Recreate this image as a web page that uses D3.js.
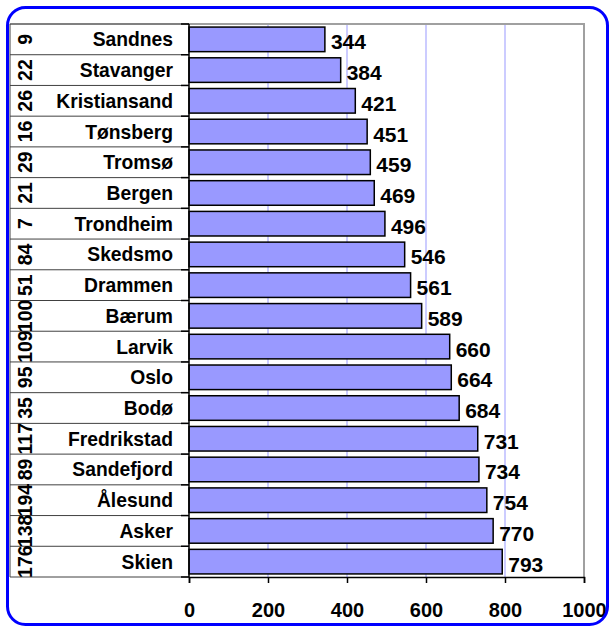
<!DOCTYPE html>
<html>
<head>
<meta charset="utf-8">
<script src="https://cdn.jsdelivr.net/npm/d3@7/dist/d3.min.js"></script>
<style>
	body { margin: 0; background: #fff; }
	text { font-family: "Liberation Sans", Arial, sans-serif; font-weight: bold; fill: #000; }
</style>
</head>
<body>
<svg id="chart" width="609" height="628"></svg>
<script>
// data
var cities = ['Sandnes', 'Stavanger', 'Kristiansand', 'Tønsberg', 'Tromsø', 'Bergen', 'Trondheim', 'Skedsmo', 'Drammen', 'Bærum', 'Larvik', 'Oslo', 'Bodø', 'Fredrikstad', 'Sandefjord', 'Ålesund', 'Asker', 'Skien']
var ranks = [9, 22, 26, 16, 29, 21, 7, 84, 51, 100, 109, 95, 35, 117, 89, 194, 138, 176]
var values = [344, 384, 421, 451, 459, 469, 496, 546, 561, 589, 660, 664, 684, 731, 734, 754, 770, 793]
var xTicks = [0, 200, 400, 600, 800, 1000]

var svg = d3.select('#chart')

var plot = { left: 189, right: 584, top: 24, bottom: 577 }
var tableLeft = 10

var x = d3.scaleLinear().domain([0, 1000]).range([plot.left, plot.right])
var y = d3.scaleBand().domain(cities).range([plot.top, plot.bottom]).paddingInner(0.2).paddingOuter(0.1)
var rowH = (plot.bottom - plot.top) / cities.length

// grid lines
svg.append('g')
	.selectAll('line')
	.data(xTicks.filter(d => d > 0 && d < 1000))
	.join('line')
	.attr('x1', d => x(d)).attr('x2', d => x(d))
	.attr('y1', plot.top).attr('y2', plot.bottom)
	.attr('stroke', '#9999ff')
	.attr('stroke-width', 1)

// plot border (top + right)
svg.append('path')
	.attr('d', `M${plot.left},${plot.top}H${plot.right}V${plot.bottom}`)
	.attr('fill', 'none')
	.attr('stroke', '#a0a0a0')
	.attr('stroke-width', 2)

// table rows
var rowLines = d3.range(cities.length + 1).map(i => plot.top + i * rowH)
svg.append('g')
	.selectAll('line')
	.data(rowLines)
	.join('line')
	.attr('x1', tableLeft).attr('x2', plot.left)
	.attr('y1', d => d).attr('y2', d => d)
	.attr('stroke', (d, i) => i == 0 ? '#808080' : '#404040')
	.attr('stroke-width', (d, i) => i == 0 ? 2 : 1)

svg.append('line')
	.attr('x1', tableLeft).attr('x2', tableLeft)
	.attr('y1', plot.top).attr('y2', plot.bottom)
	.attr('stroke', '#404040')

// bars
svg.append('g')
	.selectAll('rect')
	.data(values)
	.join('rect')
	.attr('x', x(0))
	.attr('y', (d, i) => y(cities[i]))
	.attr('width', d => x(d) - x(0))
	.attr('height', y.bandwidth())
	.attr('fill', '#9999ff')
	.attr('stroke', '#000')
	.attr('stroke-width', 1.5)

// value labels
svg.append('g')
	.selectAll('text')
	.data(values)
	.join('text')
	.attr('x', d => x(d) + 6)
	.attr('y', (d, i) => y(cities[i]) + y.bandwidth() / 2 + 10)
	.attr('font-size', 21)
	.text(d => d)

// city names
svg.append('g')
	.selectAll('text')
	.data(cities)
	.join('text')
	.attr('x', 173)
	.attr('y', d => y(d) + y.bandwidth() / 2 + 7)
	.attr('text-anchor', 'end')
	.attr('font-size', 19.3)
	.text(d => d)

// rank numbers, rotated
svg.append('g')
	.selectAll('text')
	.data(ranks)
	.join('text')
	.attr('transform', (d, i) => `translate(32,${y(cities[i]) + y.bandwidth() / 2}) rotate(-90)`)
	.attr('text-anchor', 'middle')
	.attr('font-size', 19.5)
	.text(d => d)

// axes
var xAxis = svg.append('g')
	.attr('transform', `translate(0,${plot.bottom})`)
	.call(d3.axisBottom(x).tickValues(xTicks).tickSize(6).tickFormat(d3.format('d')))
xAxis.select('.domain').attr('stroke', '#000').attr('stroke-width', 1.5)
xAxis.selectAll('.tick line').attr('stroke', '#000').attr('stroke-width', 1.5)
xAxis.selectAll('.tick text')
	.attr('font-size', 20)
	.attr('font-family', '"Liberation Sans", Arial, sans-serif')
	.attr('dy', 0)
	.attr('y', 40)

svg.append('g')
	.selectAll('line')
	.data(rowLines)
	.join('line')
	.attr('x1', plot.left - 8).attr('x2', plot.left)
	.attr('y1', d => d).attr('y2', d => d)
	.attr('stroke', '#000')
	.attr('stroke-width', 1.5)

svg.append('line')
	.attr('x1', plot.left).attr('x2', plot.left)
	.attr('y1', plot.top).attr('y2', plot.bottom)
	.attr('stroke', '#000')
	.attr('stroke-width', 1.5)

// outer rounded frame
svg.append('rect')
	.attr('x', 7.5).attr('y', 7.5)
	.attr('width', 600).attr('height', 617)
	.attr('rx', 18)
	.attr('fill', 'none')
	.attr('stroke', '#0000ff')
	.attr('stroke-width', 3)
</script>
</body>
</html>
